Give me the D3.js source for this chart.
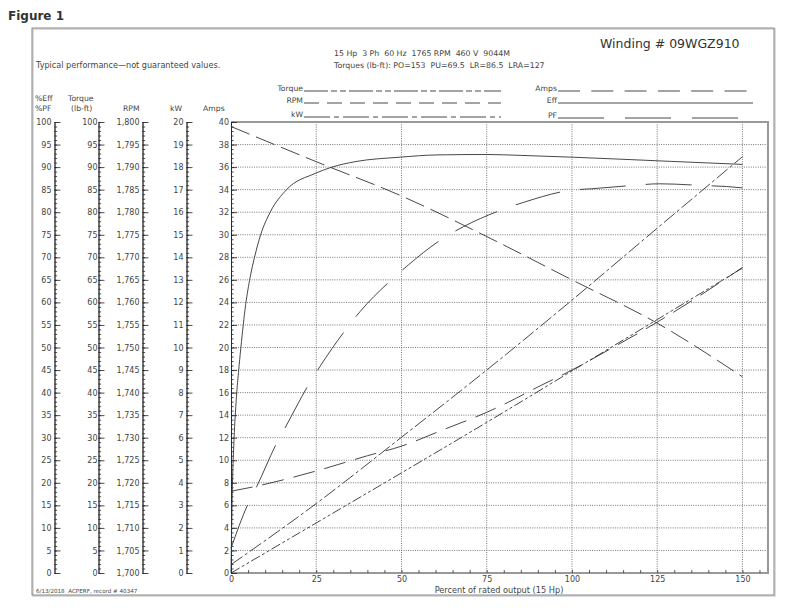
<!DOCTYPE html>
<html><head><meta charset="utf-8">
<script src="https://cdn.jsdelivr.net/npm/d3@7"></script>
<style>
body{margin:0;background:#fff}
text{font-family:"DejaVu Sans",Verdana,sans-serif;fill:#444}
</style>
</head><body>
<svg id="c" width="800" height="612"></svg>
<script>
// ---------- data ----------
const xTicks = [0, 25, 50, 75, 100, 125, 150];

const effPct = [0, 0.15, 0.4, 0.8, 1.5, 2.2, 2.9, 4.3, 5.6, 6.9, 8.7, 11.5, 16.3, 24.7, 29.6, 36.4, 49.6, 60.4, 75, 84.8, 100, 125, 150];
const effVal = [0, 8, 19, 28, 38, 44.5, 50, 59.5, 65.5, 70, 75, 80, 85, 88.6, 90, 91.2, 92.2, 92.7, 92.8, 92.6, 92.2, 91.4, 90.6];

const pfPct = [0, 5.1, 7.5, 13.4, 16.3, 22.7, 26.1, 34, 37.9, 47.2, 52, 62.8, 68.2, 80.4, 86.3, 100, 105.9, 119, 125.4, 139, 145.3, 150];
const pfVal = [5.5, 15.5, 19.1, 28.8, 32.8, 41.7, 45.8, 54.3, 58, 65.1, 68.3, 74.5, 76.8, 80.8, 82.3, 84.9, 85.2, 86, 86.3, 85.9, 85.7, 85.4];

const ampsPct = [0, 7.5, 25, 40, 50, 63, 75, 81, 90, 100, 112, 125, 137, 150];
const ampsVal = [7.25, 7.7, 9.05, 10.4, 11.25, 12.8, 14.25, 15.1, 16.5, 18.0, 20.0, 22.25, 24.5, 27.1];

const linePct = [0, 25, 50, 75, 100, 125, 150];
const rpmVal = [1799, 1791.2, 1783.6, 1774.6, 1765, 1755.4, 1743.5];
const kwVal = [0.37, 3.08, 6.02, 9.0, 12.1, 15.29, 18.46];
const torqueVal = [0, 11.1, 22.2, 33.4, 44.8, 56.2, 67.6];

const effTicks = d3.range(0, 101, 5);
const torqueTicks = d3.range(0, 101, 5);
const rpmTicks = d3.range(1700, 1801, 5);
const kwTicks = d3.range(0, 21, 1);
const ampsTicks = d3.range(0, 41, 2);

// ---------- layout ----------
const svg = d3.select("#c");
const X0 = 231, X1 = 768, Y0 = 573, Y1 = 122;
const x = d3.scaleLinear().domain([0, 157.5]).range([X0, X1]);
const yA = d3.scaleLinear().domain([0, 40]).range([Y0, Y1]);
const yEff = d3.scaleLinear().domain([0, 100]).range([Y0, Y1]);
const yTq = d3.scaleLinear().domain([0, 100]).range([Y0, Y1]);
const yRpm = d3.scaleLinear().domain([1700, 1800]).range([Y0, Y1]);
const yKw = d3.scaleLinear().domain([0, 20]).range([Y0, Y1]);

// title
svg.append("text").attr("x", 8).attr("y", 20).style("font-size", "12px").style("font-weight", "bold").style("fill", "#333").text("Figure 1");

// outer border
svg.append("rect").attr("x", 33).attr("y", 29).attr("width", 742).attr("height", 567).attr("fill", "none").attr("stroke", "#cfcfcf").attr("stroke-width", 1.5);
svg.append("rect").attr("x", 32).attr("y", 28).attr("width", 742).attr("height", 567).attr("fill", "none").attr("stroke", "#888").attr("stroke-width", 1);

// header texts
svg.append("text").attr("x", 36).attr("y", 68).style("font-size", "8.1px").text("Typical performance\u2014not guaranteed values.");
svg.append("text").attr("x", 334).attr("y", 56).style("font-size", "7.8px").attr("xml:space", "preserve").text("15 Hp  3 Ph  60 Hz  1765 RPM  460 V  9044M");
svg.append("text").attr("x", 334).attr("y", 68).style("font-size", "7.8px").attr("xml:space", "preserve").text("Torques (lb-ft): PO=153  PU=69.5  LR=86.5  LRA=127");
svg.append("text").attr("x", 600).attr("y", 48).style("font-size", "12.5px").style("fill", "#333").text("Winding # 09WGZ910");

// column headers
const hdr = [[35, 101, "%Eff"], [35, 111, "%PF"], [68, 101, "Torque"], [71, 111, "(lb-ft)"], [123, 111, "RPM"], [170, 111, "kW"], [203, 111, "Amps"]];
hdr.forEach(h => svg.append("text").attr("x", h[0]).attr("y", h[1]).style("font-size", "7.7px").text(h[2]));

// legend
const legL = [
  {name: "Torque", y: 91, dash: "24,3,6,3,6,3", x2: 501},
  {name: "RPM", y: 103, dash: "15,8", x2: 501},
  {name: "kW", y: 117, dash: "26,4,5,4", x2: 501}
];
legL.forEach(l => {
  svg.append("text").attr("x", 303).attr("y", l.y).attr("text-anchor", "end").style("font-size", "7.7px").text(l.name);
  svg.append("line").attr("x1", 304).attr("x2", l.x2).attr("y1", l.y).attr("y2", l.y).attr("stroke", "#333").attr("stroke-width", 0.9).attr("stroke-dasharray", l.dash);
});
const legR = [
  {name: "Amps", y: 91, dash: "22,11.3", x2: 750},
  {name: "Eff", y: 103, dash: null, x2: 753},
  {name: "PF", y: 118, dash: "46,21", x2: 739}
];
legR.forEach(l => {
  svg.append("text").attr("x", 557).attr("y", l.y).attr("text-anchor", "end").style("font-size", "7.7px").text(l.name);
  svg.append("line").attr("x1", 558).attr("x2", l.x2).attr("y1", l.y).attr("y2", l.y).attr("stroke", "#333").attr("stroke-width", 0.9).attr("stroke-dasharray", l.dash);
});

// gridlines
const grid = svg.append("g").attr("stroke", "#555").attr("stroke-width", 0.8).attr("stroke-dasharray", "1,1.3");
grid.selectAll("line.h").data(d3.range(2, 40, 2)).join("line").attr("class", "h")
  .attr("x1", X0).attr("x2", X1).attr("y1", d => yA(d)).attr("y2", d => yA(d));
grid.selectAll("line.v").data(xTicks.slice(1)).join("line").attr("class", "v")
  .attr("x1", d => x(d)).attr("x2", d => x(d)).attr("y1", Y1).attr("y2", Y0);

// frame
svg.append("path").attr("d", `M${X0},${Y1}H${X1}V${Y0}H${X0}`).attr("fill", "none").attr("stroke", "#999").attr("stroke-width", 2);

// left axes
function leftAxis(scale, xpos, major, minorStep, fmt, pad) {
  const dom = scale.domain();
  const minor = d3.range(dom[0], dom[1] + minorStep / 2, minorStep);
  const gm = svg.append("g").attr("transform", `translate(${xpos},0)`)
    .call(d3.axisLeft(scale).tickValues(minor).tickSize(-2.6).tickSizeOuter(0).tickFormat(""));
  const g = svg.append("g").attr("transform", `translate(${xpos},0)`)
    .call(d3.axisLeft(scale).tickValues(major).tickSize(-6).tickSizeOuter(0).tickPadding(pad).tickFormat(fmt));
  [gm, g].forEach(a => { a.selectAll("path,line").attr("stroke", "#222").attr("stroke-width", 0.8); });
  g.selectAll("text").style("font-size", "8px").style("font-family", '"DejaVu Sans",sans-serif').attr("fill", "#444");
}
leftAxis(yEff, 54.5, effTicks, 1, d3.format("d"), 3);
leftAxis(yTq, 98.5, torqueTicks, 1, d3.format("d"), 1);
leftAxis(yRpm, 142.5, rpmTicks, 1, d3.format(","), 3);
leftAxis(yKw, 186.5, kwTicks, 0.2, d3.format("d"), 3);
leftAxis(yA, X0, ampsTicks, 0.4, d3.format("d"), 2);

// x axis
const gxm = svg.append("g").attr("transform", `translate(0,${Y0})`)
  .call(d3.axisBottom(x).tickValues(d3.range(0, 156, 5)).tickSize(-3).tickSizeOuter(0).tickFormat(""));
gxm.select(".domain").remove();
gxm.selectAll("line").attr("stroke", "#333").attr("stroke-width", 0.8);
const gx = svg.append("g").attr("transform", `translate(0,${Y0})`)
  .call(d3.axisBottom(x).tickValues(xTicks).tickSize(0).tickPadding(3).tickFormat(d3.format("d")));
gx.select(".domain").remove();
gx.selectAll("text").style("font-size", "8px").style("font-family", '"DejaVu Sans",sans-serif').attr("fill", "#444");

svg.append("text").attr("x", 499).attr("y", 592.5).attr("text-anchor", "middle").style("font-size", "8.2px").text("Percent of rated output (15 Hp)");
svg.append("text").attr("x", 36).attr("y", 593).style("font-size", "5.6px").attr("xml:space", "preserve").text("6/13/2018  ACPERF, record # 40347");

// curves
const plot = svg.append("g").attr("fill", "none").attr("stroke", "#333").attr("stroke-width", 0.9);
function curve(px, py, ys, dash, c) {
  const pts = px.map((p, i) => [x(p), ys(py[i])]);
  plot.append("path").attr("d", d3.line().curve(c || d3.curveMonotoneX)(pts)).attr("stroke-dasharray", dash);
}
curve(effPct, effVal, yEff, null);
curve(pfPct, pfVal, yEff, "46,20");
curve(ampsPct, ampsVal, yA, "22,10");
curve(linePct, rpmVal, yRpm, "20,7");
curve(linePct, kwVal, yKw, "14,3,3,3");
curve(linePct, torqueVal, yTq, "10,2.5,3,2.5,3,2.5");
</script>
</body></html>
